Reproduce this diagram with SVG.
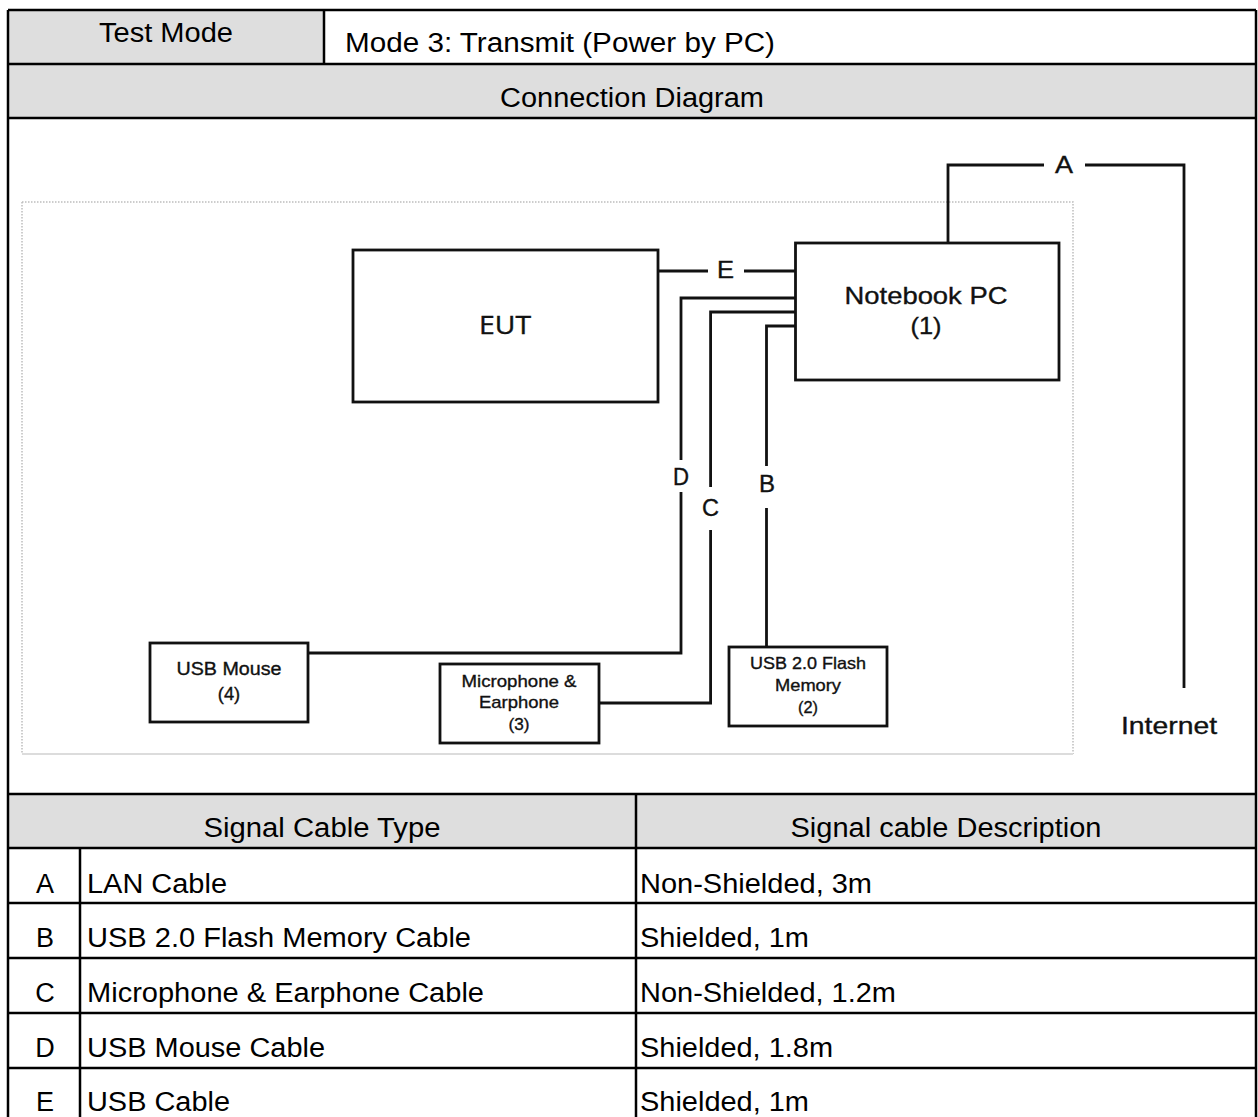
<svg xmlns="http://www.w3.org/2000/svg" width="1258" height="1117" viewBox="0 0 1258 1117">
<style>
.t{font-family:"Liberation Sans",Arial,sans-serif;font-size:27px;fill:#000}
.d{font-family:"Liberation Sans",Arial,sans-serif;fill:#111;stroke:#111;stroke-width:0.35}
.g{fill:#dedede}
.tl{stroke:#000;stroke-width:2.5;fill:none}
.bx{fill:#fff;stroke:#111;stroke-width:2.8}
.cn{stroke:#111;stroke-width:2.8;fill:none}
</style>
<rect width="1258" height="1117" fill="#fff"/>
<g id="table">
  <rect class="g" x="8" y="10" width="316" height="54"/>
  <rect class="g" x="8" y="64" width="1248" height="54"/>
  <rect class="g" x="8" y="794" width="1248" height="54"/>
  <path class="tl" d="M8 10H1256M8 64H1256M8 118H1256M8 794H1256M8 848H1256M8 903H1256M8 958H1256M8 1013H1256M8 1068H1256M8 10V1117M1256 10V1117M324 10V64M636 794V1117M80 848V1117"/>
  <text class="t" x="99" y="42" textLength="134" lengthAdjust="spacingAndGlyphs">Test Mode</text>
  <text class="t" x="345" y="52" textLength="430" lengthAdjust="spacingAndGlyphs">Mode 3: Transmit (Power by PC)</text>
  <text class="t" x="500" y="107" textLength="264" lengthAdjust="spacingAndGlyphs">Connection Diagram</text>
  <text class="t" x="203.5" y="837" textLength="237" lengthAdjust="spacingAndGlyphs">Signal Cable Type</text>
  <text class="t" x="790.5" y="837" textLength="311" lengthAdjust="spacingAndGlyphs">Signal cable Description</text>
  <g text-anchor="middle">
    <text class="t" x="45" y="893">A</text>
    <text class="t" x="45" y="947">B</text>
    <text class="t" x="45" y="1002">C</text>
    <text class="t" x="45" y="1057">D</text>
    <text class="t" x="45" y="1111">E</text>
  </g>
  <text class="t" x="87" y="893" textLength="140" lengthAdjust="spacingAndGlyphs">LAN Cable</text>
  <text class="t" x="87" y="947" textLength="384" lengthAdjust="spacingAndGlyphs">USB 2.0 Flash Memory Cable</text>
  <text class="t" x="87" y="1002" textLength="397" lengthAdjust="spacingAndGlyphs">Microphone &amp; Earphone Cable</text>
  <text class="t" x="87" y="1057" textLength="238" lengthAdjust="spacingAndGlyphs">USB Mouse Cable</text>
  <text class="t" x="87" y="1111" textLength="143" lengthAdjust="spacingAndGlyphs">USB Cable</text>
  <text class="t" x="640" y="893" textLength="232" lengthAdjust="spacingAndGlyphs">Non-Shielded, 3m</text>
  <text class="t" x="640" y="947" textLength="169" lengthAdjust="spacingAndGlyphs">Shielded, 1m</text>
  <text class="t" x="640" y="1002" textLength="256" lengthAdjust="spacingAndGlyphs">Non-Shielded, 1.2m</text>
  <text class="t" x="640" y="1057" textLength="193" lengthAdjust="spacingAndGlyphs">Shielded, 1.8m</text>
  <text class="t" x="640" y="1111" textLength="169" lengthAdjust="spacingAndGlyphs">Shielded, 1m</text>
</g>
<g id="frame">
  <path d="M22 202H1073V754M22 202V754" fill="none" stroke="#bdbdbd" stroke-width="1.5" stroke-dasharray="1.5 1.5"/>
  <path d="M22 754H1073" fill="none" stroke="#dcdcdc" stroke-width="2"/>
</g>
<g id="connectors">
  <path class="cn" d="M658 271H708M744 271H795.5"/>
  <path class="cn" d="M948 243V165H1044M1085 165H1184V688"/>
  <path class="cn" d="M795.5 298H681V460M681 492V653H308"/>
  <path class="cn" d="M795.5 312H710.6V487M710.6 530V703H599"/>
  <path class="cn" d="M795.5 326H766.5V466M766.5 508V647"/>
  <text class="d" x="717" y="278" font-size="23" textLength="17" lengthAdjust="spacingAndGlyphs">E</text>
  <text class="d" x="1055" y="173" font-size="23" textLength="18" lengthAdjust="spacingAndGlyphs">A</text>
  <text class="d" x="673" y="485" font-size="23" textLength="16" lengthAdjust="spacingAndGlyphs">D</text>
  <text class="d" x="702" y="516" font-size="23" textLength="17" lengthAdjust="spacingAndGlyphs">C</text>
  <text class="d" x="759" y="492" font-size="23" textLength="16" lengthAdjust="spacingAndGlyphs">B</text>
</g>
<g id="eut">
  <rect class="bx" x="353" y="250" width="305" height="152"/>
  <text x="479" y="334" font-family="'Open Sans','DejaVu Sans',sans-serif" font-size="25" fill="#111" stroke="#111" stroke-width="0.4" textLength="52" lengthAdjust="spacingAndGlyphs">EUT</text>
</g>
<g id="notebook-pc">
  <rect class="bx" x="795.5" y="243" width="263.5" height="137"/>
  <text class="d" x="844.5" y="304" font-size="24" textLength="163" lengthAdjust="spacingAndGlyphs">Notebook PC</text>
  <text class="d" x="910.5" y="334" font-size="24" textLength="31" lengthAdjust="spacingAndGlyphs">(1)</text>
</g>
<g id="usb-mouse">
  <rect class="bx" x="150" y="643" width="158" height="79"/>
  <text class="d" x="176.5" y="675" font-size="18" textLength="105" lengthAdjust="spacingAndGlyphs">USB Mouse</text>
  <text class="d" x="217.8" y="700" font-size="18" textLength="22.4" lengthAdjust="spacingAndGlyphs">(4)</text>
</g>
<g id="microphone-earphone">
  <rect class="bx" x="440" y="664" width="159" height="79"/>
  <text class="d" x="461.5" y="687" font-size="17" textLength="115" lengthAdjust="spacingAndGlyphs">Microphone &amp;</text>
  <text class="d" x="479" y="708" font-size="17" textLength="80" lengthAdjust="spacingAndGlyphs">Earphone</text>
  <text class="d" x="508.5" y="730" font-size="17" textLength="21" lengthAdjust="spacingAndGlyphs">(3)</text>
</g>
<g id="usb-flash-memory">
  <rect class="bx" x="729" y="647" width="158" height="79"/>
  <text class="d" x="750" y="669" font-size="16.5" textLength="116" lengthAdjust="spacingAndGlyphs">USB 2.0 Flash</text>
  <text class="d" x="775" y="691" font-size="16.5" textLength="66" lengthAdjust="spacingAndGlyphs">Memory</text>
  <text class="d" x="798" y="713" font-size="16.5" textLength="20" lengthAdjust="spacingAndGlyphs">(2)</text>
</g>
<g id="internet">
  <text class="d" x="1121" y="734" font-size="24" textLength="96" lengthAdjust="spacingAndGlyphs">Internet</text>
</g>
</svg>
